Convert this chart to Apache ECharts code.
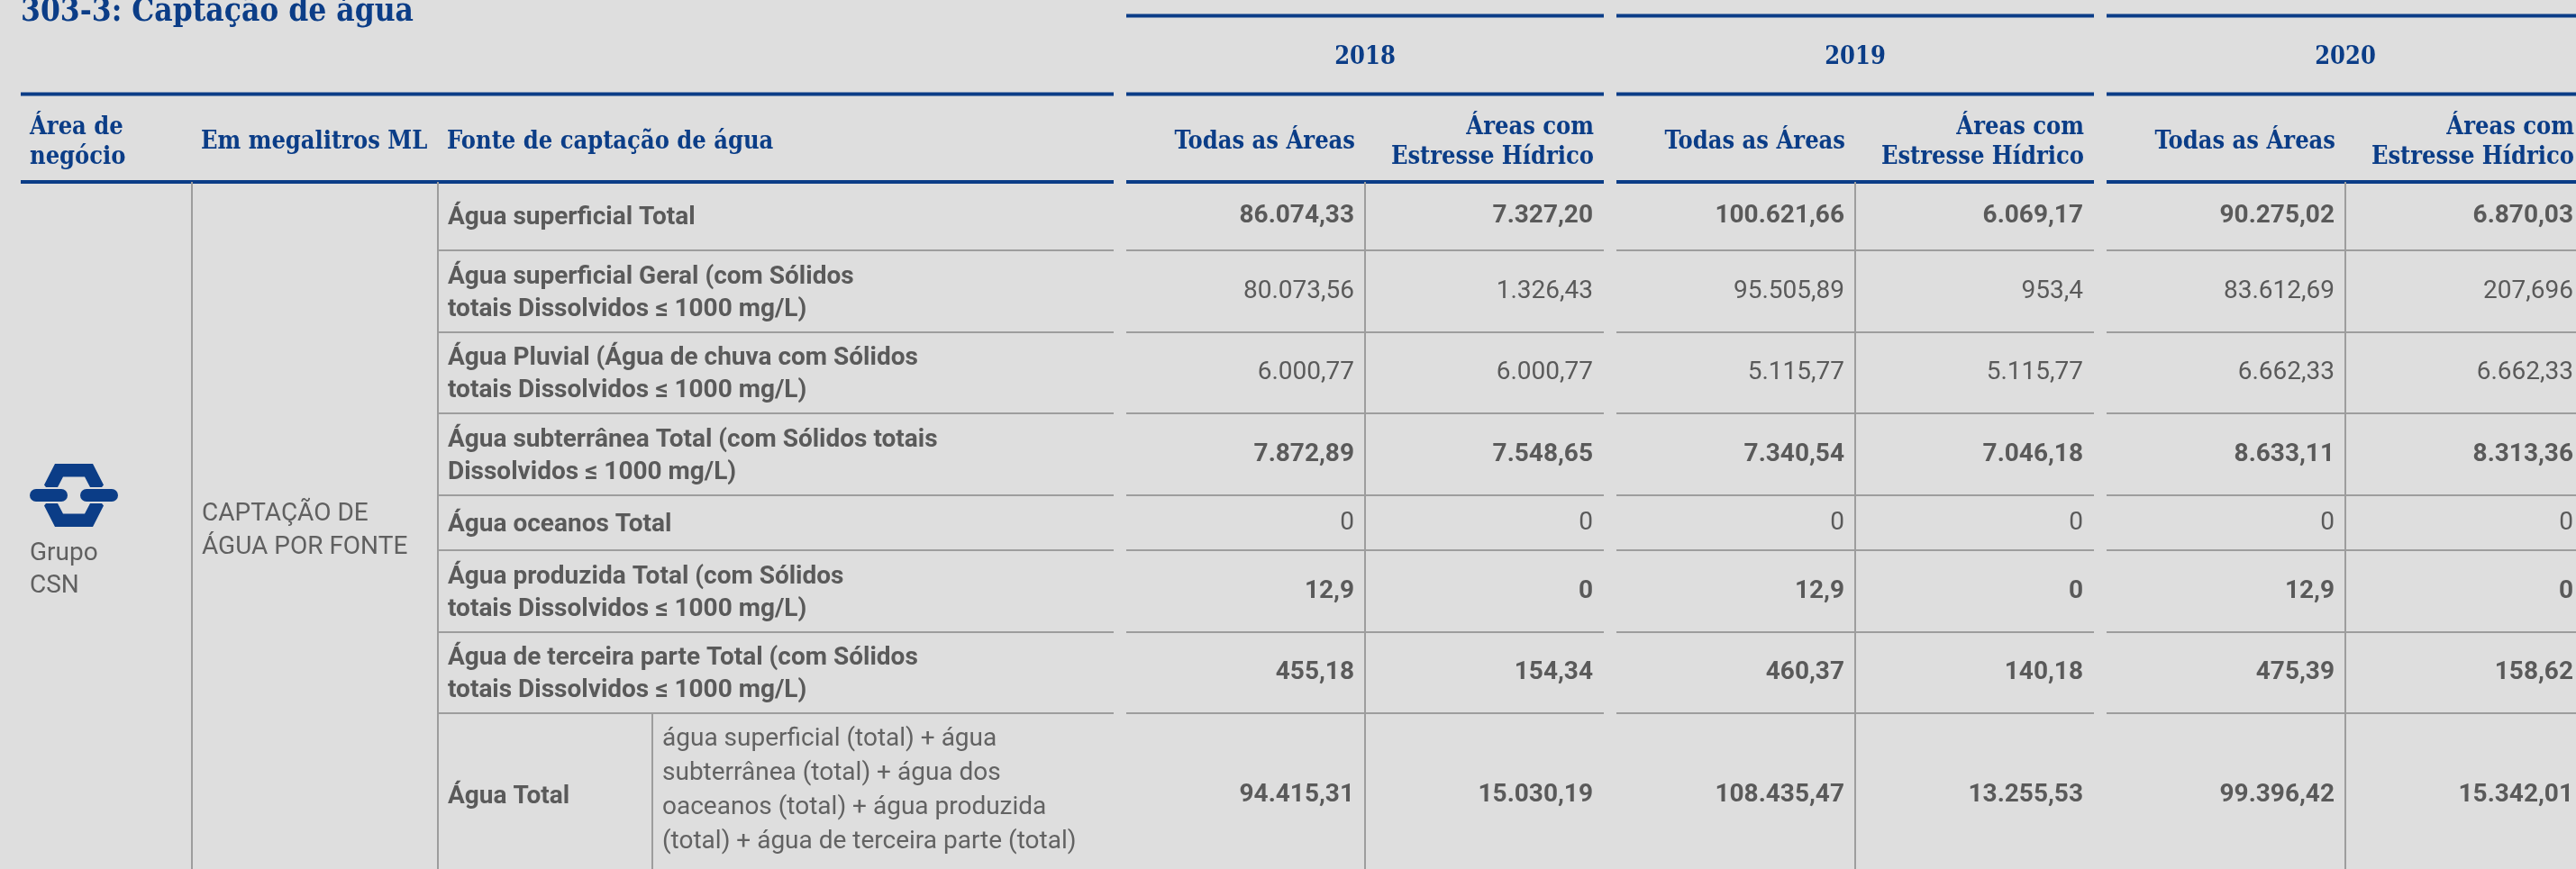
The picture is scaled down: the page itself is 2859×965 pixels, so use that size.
<!DOCTYPE html>
<html>
<head>
<meta charset="utf-8">
<title>303-3: Captação de água</title>
<script src="https://cdn.jsdelivr.net/npm/echarts@6/dist/echarts.min.js"></script>
<style>
  html, body { margin: 0; padding: 0; background: #dedede; }
  #captacao { width: 2859px; height: 965px; }
</style>
</head>
<body>
<div id="captacao"></div>
<script>
// ---- dados ----
const titleText = '303-3: Captação de água';
const years = ['2018', '2019', '2020'];
const subHeaders = ['Todas as Áreas', 'Áreas com\nEstresse Hídrico'];
const mainHeaders = ['Área de\nnegócio', 'Em megalitros ML', 'Fonte de captação de água'];
const businessArea = 'Grupo\nCSN';
const groupName = 'CAPTAÇÃO DE\nÁGUA POR FONTE';
const sources = [
  'Água superficial Total',
  'Água superficial Geral (com Sólidos\ntotais Dissolvidos ≤ 1000 mg/L)',
  'Água Pluvial (Água de chuva com Sólidos\ntotais Dissolvidos ≤ 1000 mg/L)',
  'Água subterrânea Total (com Sólidos totais\nDissolvidos ≤ 1000 mg/L)',
  'Água oceanos Total',
  'Água produzida Total (com Sólidos\ntotais Dissolvidos ≤ 1000 mg/L)',
  'Água de terceira parte Total (com Sólidos\ntotais Dissolvidos ≤ 1000 mg/L)',
  'Água Total'
];
const totalFormula = 'água superficial (total) + água\nsubterrânea (total) + água dos\noaceanos (total) + água produzida\n(total) + água de terceira parte (total)';
const all2018 = ['86.074,33', '80.073,56', '6.000,77', '7.872,89', '0', '12,9', '455,18', '94.415,31'];
const stress2018 = ['7.327,20', '1.326,43', '6.000,77', '7.548,65', '0', '0', '154,34', '15.030,19'];
const all2019 = ['100.621,66', '95.505,89', '5.115,77', '7.340,54', '0', '12,9', '460,37', '108.435,47'];
const stress2019 = ['6.069,17', '953,4', '5.115,77', '7.046,18', '0', '0', '140,18', '13.255,53'];
const all2020 = ['90.275,02', '83.612,69', '6.662,33', '8.633,11', '0', '12,9', '475,39', '99.396,42'];
const stress2020 = ['6.870,03', '207,696', '6.662,33', '8.313,36', '0', '0', '158,62', '15.342,01'];
const yearValues = [[all2018, stress2018], [all2019, stress2019], [all2020, stress2020]];

// ---- layout / estilo ----
const W = 2859, H = 965;
const tableLeft = 23;
const leftWidths = [190, 273, 238, 512];
const subColWidth = 265;
const blockGap = 14;
const yearTop = 17.5, headTop = 104.5, headBottom = 202;
const rowHeights = [76, 91, 90, 91, 61, 91, 90, 182];
const boldValueRows = [0, 3, 5, 6, 7];

const BLUE = '#0b3d87';
const GRID = '#9d9d9d';
const TEXT = '#5a5a5a';
const SERIF = "'DejaVu Serif Condensed', 'DejaVu Serif', serif";
const SANS = "Roboto, 'Noto Sans', sans-serif";

const leftEdges = [tableLeft];
leftWidths.forEach(w => leftEdges.push(leftEdges[leftEdges.length - 1] + w));
const leftRight = leftEdges[4];
const blockStart = years.map((y, i) => leftRight + blockGap + i * (2 * subColWidth + blockGap));
const rowEdges = [headBottom];
rowHeights.forEach(h => rowEdges.push(rowEdges[rowEdges.length - 1] + h));
const bodyBottom = rowEdges[rowEdges.length - 1];

// elementos da tabela
const cells = [];
function line(x0, y0, x1, y1, color, width) {
  cells.push({ kind: 'line', x0, y0, x1, y1, color, width });
}
function text(x0, y0, x1, y1, t, o) {
  cells.push(Object.assign({ kind: 'text', x0, y0, x1, y1, text: t }, o));
}

// linhas azuis do cabeçalho
[headTop, headBottom].forEach(y => line(tableLeft, y, leftRight, y, BLUE, 4));
blockStart.forEach(bx => {
  [yearTop, headTop, headBottom].forEach(y => {
    line(bx, y, bx + subColWidth, y, BLUE, 4);
    line(bx + subColWidth, y, bx + 2 * subColWidth, y, BLUE, 4);
  });
});

// grade cinza
line(leftEdges[1], headBottom, leftEdges[1], bodyBottom, GRID, 2);
line(leftEdges[2], headBottom, leftEdges[2], bodyBottom, GRID, 2);
line(leftEdges[3], rowEdges[7], leftEdges[3], bodyBottom, GRID, 2);
for (let r = 1; r < rowEdges.length - 1; r++) {
  line(leftEdges[2], rowEdges[r], leftRight, rowEdges[r], GRID, 2);
  blockStart.forEach(bx => line(bx, rowEdges[r], bx + 2 * subColWidth, rowEdges[r], GRID, 2));
}
blockStart.forEach(bx => line(bx + subColWidth, headBottom, bx + subColWidth, bodyBottom, GRID, 2));

// cabeçalhos
const headFont = { font: 'bold 27px ' + SERIF, color: BLUE, lineHeight: 33, dy: 5 };
mainHeaders.forEach((h, i) => {
  const x1 = i === 2 ? leftRight : leftEdges[i + 1];
  text(leftEdges[i], headTop, x1, headBottom, h, Object.assign({ align: 'left', pad: 10 }, headFont));
});
years.forEach((y, i) => {
  const bx = blockStart[i];
  text(bx, yearTop, bx + 2 * subColWidth, headTop, y, Object.assign({ align: 'center' }, headFont, { dy: 3 }));
  subHeaders.forEach((s, j) => {
    text(bx + j * subColWidth, headTop, bx + (j + 1) * subColWidth, headBottom, s,
      Object.assign({ align: 'right', pad: 11 }, headFont));
  });
});

// corpo
const bodyTop = rowEdges[0];
cells.push({ kind: 'logo', x0: leftEdges[0], y0: bodyTop, x1: leftEdges[1], y1: bodyBottom });
text(leftEdges[0], bodyTop, leftEdges[1], bodyBottom, businessArea,
  { align: 'left', pad: 10, font: '28px ' + SANS, color: '#606060', lineHeight: 36.5, dy: 45 });
text(leftEdges[1], bodyTop, leftEdges[2], bodyBottom, groupName,
  { align: 'left', pad: 11, font: '28px ' + SANS, color: '#606060', lineHeight: 37, dy: 1 });

sources.forEach((s, r) => {
  const last = r === sources.length - 1;
  text(leftEdges[2], rowEdges[r], last ? leftEdges[3] : leftRight, rowEdges[r + 1], s,
    { align: 'left', pad: 11, font: 'bold 28px ' + SANS, color: TEXT, lineHeight: 36, dy: 2 });
  if (last) {
    text(leftEdges[3], rowEdges[r], leftRight, rowEdges[r + 1], totalFormula,
      { align: 'left', pad: 11, font: '28px ' + SANS, color: '#626262', lineHeight: 37.7, dy: -5 });
  }
  yearValues.forEach((pair, i) => {
    pair.forEach((vals, j) => {
      const bx = blockStart[i] + j * subColWidth;
      const bold = boldValueRows.indexOf(r) >= 0;
      text(bx, rowEdges[r], bx + subColWidth, rowEdges[r + 1], vals[r],
        { align: 'right', pad: 12, font: (bold ? 'bold ' : '') + '28px ' + SANS, color: TEXT, lineHeight: 36, dy: 0 });
    });
  });
});

// logotipo CSN (coordenadas locais em px, centro do desenho)
const logoTop = [[-21, -35], [21, -35], [33, -11.5], [31, -9], [18, -9],
  [12, -20.5], [-12, -20.5], [-18, -9], [-31, -9], [-33, -11.5]];

const chart = echarts.init(document.getElementById('captacao'));
const option = {
  backgroundColor: '#dedede',
  animation: false,
  title: {
    text: titleText,
    left: tableLeft,
    top: -4,
    padding: 0,
    textStyle: { fontFamily: SERIF, fontWeight: 'bold', fontSize: 35, color: BLUE }
  },
  grid: { left: 0, right: 0, top: 0, bottom: 0 },
  xAxis: { type: 'value', min: 0, max: W, show: false },
  yAxis: { type: 'value', min: 0, max: H, inverse: true, show: false },
  series: [{
    type: 'custom',
    coordinateSystem: 'cartesian2d',
    clip: false,
    silent: true,
    data: cells.map((c, i) => [c.x0, c.y0, i]),
    renderItem: function (params, api) {
      const c = cells[params.dataIndex];
      const p0 = api.coord([c.x0, c.y0]);
      const p1 = api.coord([c.x1, c.y1]);
      if (c.kind === 'line') {
        return {
          type: 'line',
          shape: { x1: p0[0], y1: p0[1], x2: p1[0], y2: p1[1] },
          style: { stroke: c.color, lineWidth: c.width }
        };
      }
      if (c.kind === 'logo') {
        const cx = p0[0] + 59;
        const cy = (p0[1] + p1[1]) / 2 - 38;
        const top = logoTop.map(p => [cx + p[0], cy + p[1]]);
        const bottom = logoTop.map(p => [cx + p[0], cy - p[1]]);
        return {
          type: 'group',
          children: [
            { type: 'polygon', shape: { points: top }, style: { fill: BLUE } },
            { type: 'polygon', shape: { points: bottom }, style: { fill: BLUE } },
            { type: 'rect', shape: { x: cx - 49, y: cy - 7, width: 42, height: 14, r: 7 }, style: { fill: BLUE } },
            { type: 'rect', shape: { x: cx + 7, y: cy - 7, width: 42, height: 14, r: 7 }, style: { fill: BLUE } }
          ]
        };
      }
      let x = (p0[0] + p1[0]) / 2;
      if (c.align === 'left') x = p0[0] + c.pad;
      if (c.align === 'right') x = p1[0] - c.pad;
      const y = (p0[1] + p1[1]) / 2 + (c.dy || 0);
      return {
        type: 'text',
        x: x,
        y: y,
        style: {
          text: c.text,
          font: c.font,
          fill: c.color,
          align: c.align,
          verticalAlign: 'middle',
          lineHeight: c.lineHeight
        }
      };
    }
  }]
};
chart.setOption(option);
</script>
</body>
</html>
